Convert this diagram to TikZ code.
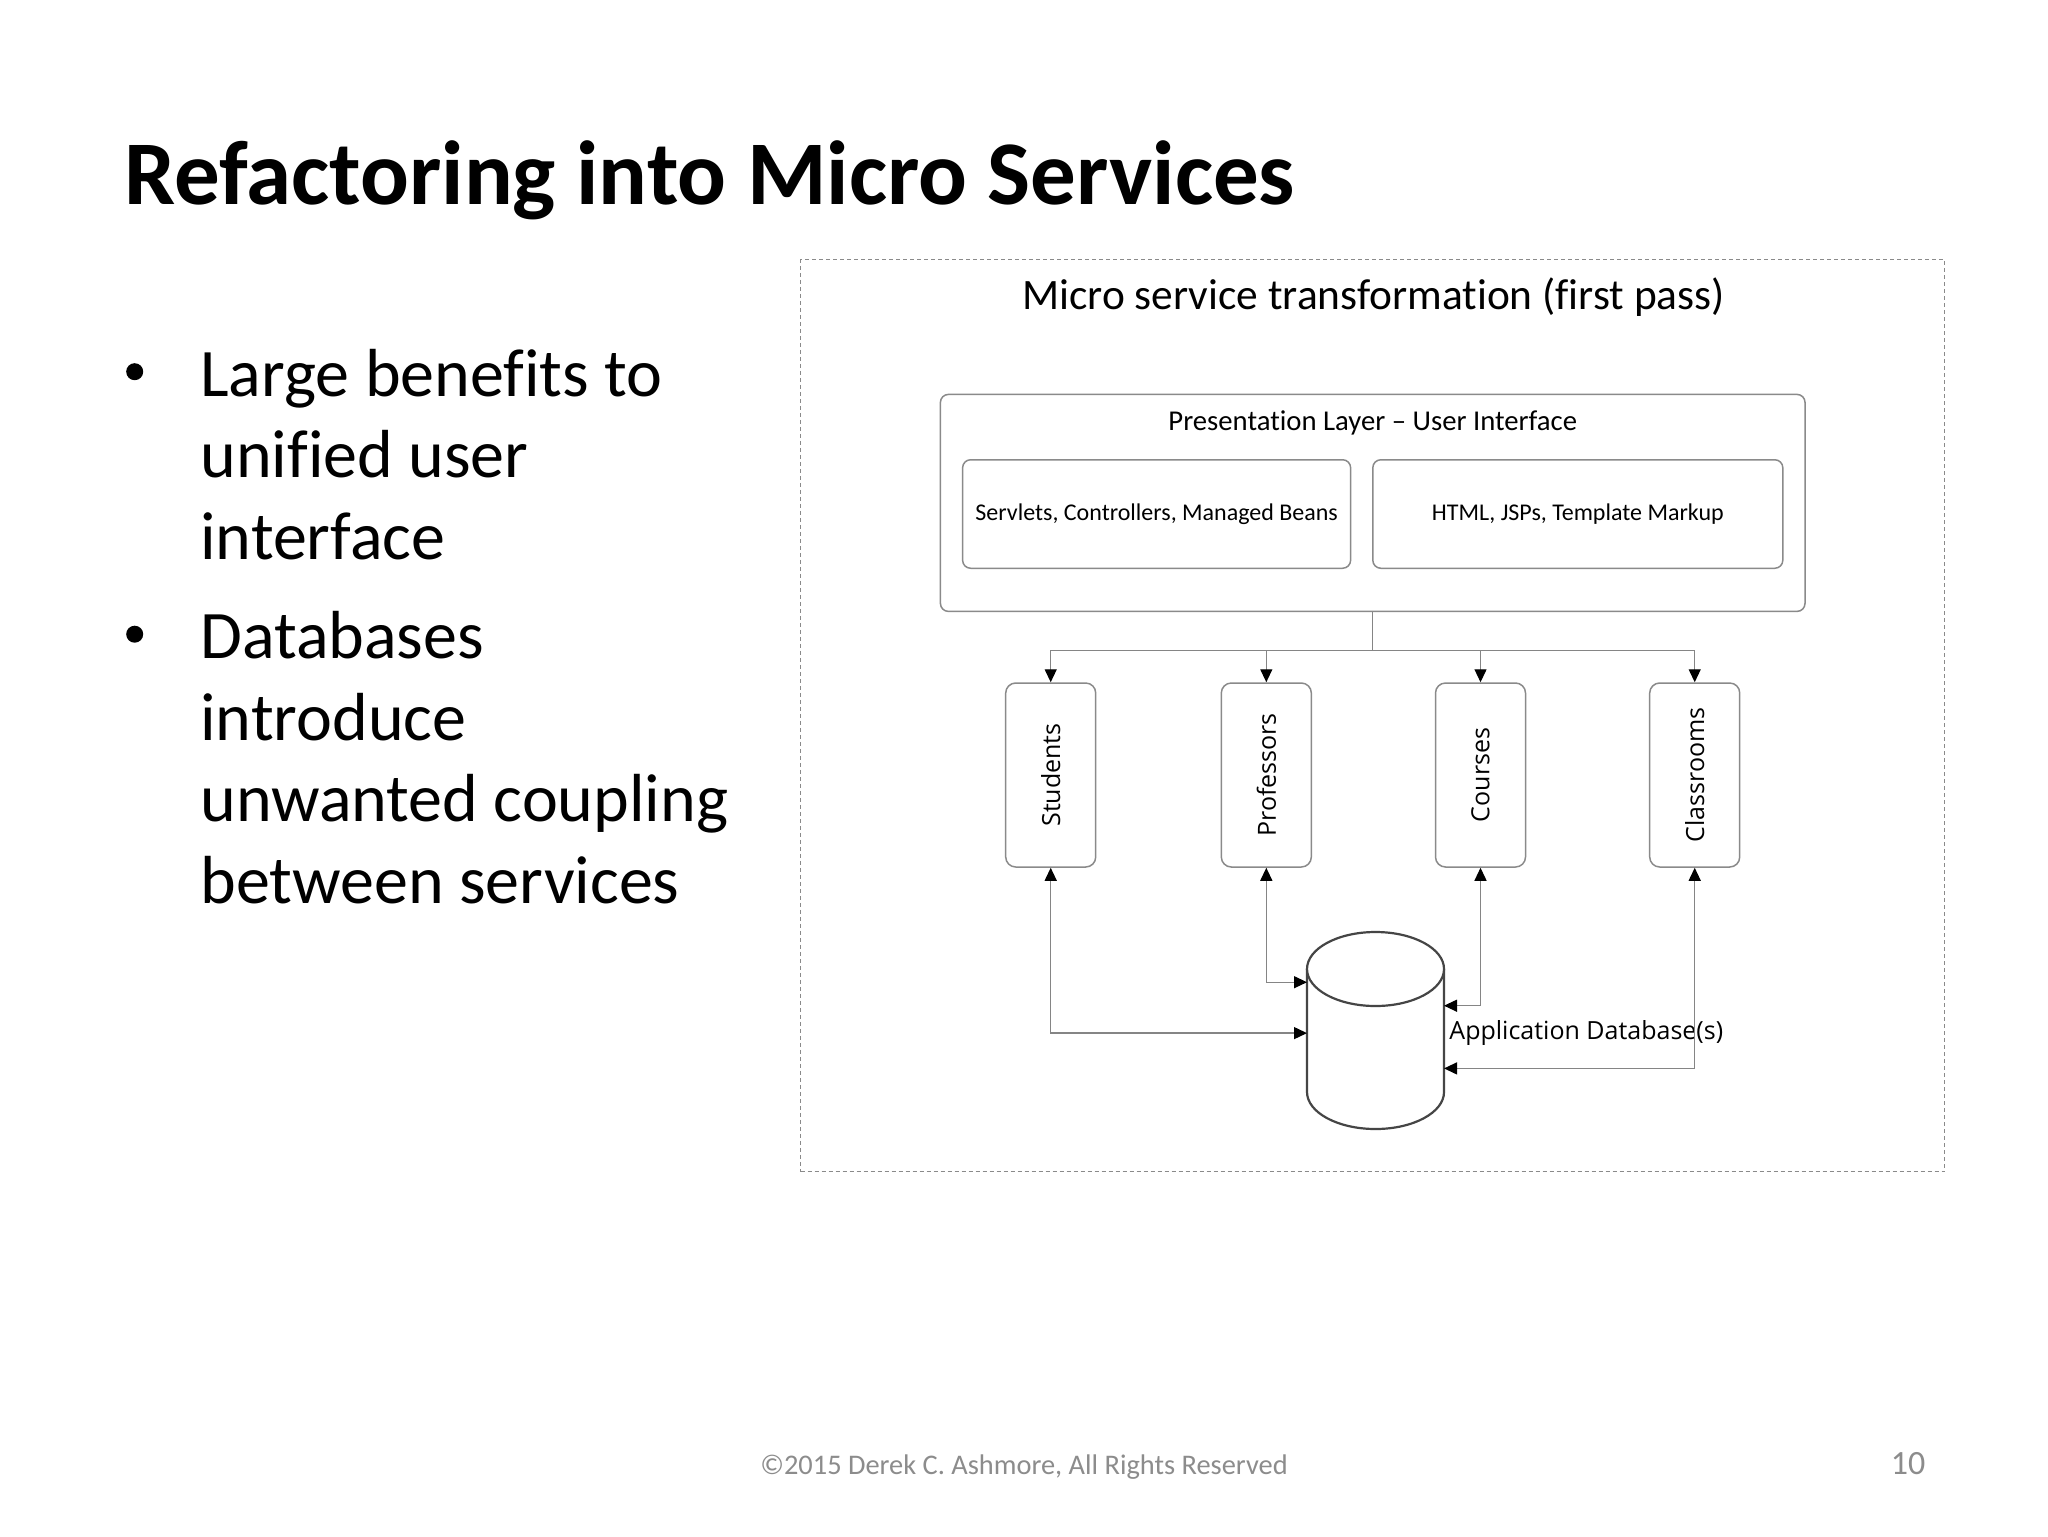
\documentclass[tikz,border=0pt]{standalone}
\usepackage{fontspec}
\setmainfont{Carlito}[Ligatures=NoCommon]
\newfontfamily\segoe{Open Sans}[Ligatures=NoCommon]
\usepackage{graphicx}
\usetikzlibrary{arrows.meta}
\definecolor{linegray}{HTML}{858585}
\definecolor{boxgray}{HTML}{8A8A8A}
\definecolor{footgray}{HTML}{8C8C8C}
\definecolor{cylgray}{HTML}{454545}
\begin{document}
\begin{tikzpicture}[x=0.5pt,y=-0.5pt,
  >={Triangle[length=6.5pt,width=6pt,color=black]},
  conn/.style={draw=linegray, line width=0.65pt},
  framebox/.style={draw=boxgray, line width=0.5pt, dash pattern=on 2pt off 1.5pt, minimum width=572.1pt, minimum height=455.8pt, inner sep=0pt},
  outerbox/.style={draw=boxgray, line width=0.75pt, rounded corners=4pt, minimum width=432.3pt, minimum height=108.5pt, inner sep=0pt},
  innerbox/.style={draw=boxgray, line width=0.75pt, rounded corners=4pt, minimum height=54.25pt, inner sep=0pt, font=\fontsize{12}{14}\selectfont},
  svc/.style={draw=boxgray, line width=0.75pt, rounded corners=5pt, minimum width=45pt, minimum height=92pt, inner sep=0pt, font=\segoe\fontsize{12.5}{14}\selectfont},
  bodytext/.style={anchor=base west, inner sep=0pt, font=\fontsize{34}{40}\selectfont},
  bulletdot/.style={circle, fill=black, inner sep=0pt, minimum size=8.5pt},
]
\useasboundingbox[fill=white] (0,0) rectangle (2048,1536);

% slide title
\node[anchor=base west, inner sep=0pt, font=\bfseries\fontsize{45.5}{54}\selectfont] (title) at (124,204) {Refactoring into Micro Services};

% bullets
\node[bulletdot] (b1) at (134.7,371.7) {};
\node[bodytext] (l1) at (200,396) {Large benefits to};
\node[bodytext] (l2) at (200,477.6) {unified user};
\node[bodytext] (l3) at (200,559.2) {interface};
\node[bulletdot] (b2) at (134.7,634.2) {};
\node[bodytext] (l4) at (200,658.5) {Databases};
\node[bodytext] (l5) at (200,740.1) {introduce};
\node[bodytext] (l6) at (200,821.7) {unwanted coupling};
\node[bodytext] (l7) at (200,903.3) {between services};

% diagram frame
\node[framebox] (frame) at (1372.7,715.7) {};
\node[anchor=base, inner sep=0pt, font=\fontsize{21.7}{26}\selectfont] (dtitle) at (1373.5,309) {Micro service transformation (first pass)};

% presentation layer
\node[outerbox] (pres) at (1372.7,502.9) {};
\node[anchor=base, inner sep=0pt, font=\fontsize{14.35}{17}\selectfont] (preslabel) at (1372.7,430) {Presentation Layer – User Interface};
\node[innerbox, minimum width=194pt] (servlets) at (1156.6,514) {Servlets, Controllers, Managed Beans};
\node[innerbox, minimum width=205pt] (html) at (1577.8,514) {HTML, JSPs, Template Markup};

% services
\node[svc] (students) at (1050.7,775) {\rotatebox{90}{Students}};
\node[svc] (professors) at (1266.3,775) {\rotatebox{90}{Professors}};
\node[svc] (courses) at (1480.5,775) {\rotatebox{90}{Courses}};
\node[svc] (classrooms) at (1694.7,775) {\rotatebox{90}{Classrooms}};

% bus
\coordinate (bus) at (1372.7,650.4);
\draw[conn,->] (pres.south) -- (bus) -| (students.north);
\draw[conn,->] (bus) -| (professors.north);
\draw[conn,->] (bus) -| (courses.north);
\draw[conn,->] (bus) -| (classrooms.north);

% database cylinder
\node[inner sep=0pt, minimum width=68.5pt, minimum height=98.5pt] (db) at (1375.5,1030.5) {};
\draw[cylgray, line width=1.1pt, fill=white]
  (1307,969) -- (1307,1092) arc[start angle=180, end angle=0, x radius=68.5, y radius=37] -- (1444,969);
\draw[cylgray, line width=1.1pt, fill=white] (1375.5,969) ellipse [x radius=68.5, y radius=37];
\node[anchor=base west, inner sep=0pt, font=\segoe\fontsize{12.5}{14}\selectfont] (dblabel) at (1449,1039) {Application Database(s)};

\coordinate (dbP) at (1307,982.2);
\coordinate (dbS) at (1307,1033.1);
\coordinate (dbC) at (1444,1005.7);
\coordinate (dbR) at (1444,1068.4);
\draw[conn,<->] (students.south) |- (dbS);
\draw[conn,<->] (professors.south) |- (dbP);
\draw[conn,<->] (courses.south) |- (dbC);
\draw[conn,<->] (classrooms.south) |- (dbR);

% footer
\node[anchor=base, inner sep=0pt, text=footgray, font=\fontsize{14.2}{17}\selectfont] (footer) at (1024,1474.6) {©2015 Derek C. Ashmore, All Rights Reserved};
\node[anchor=base, inner sep=0pt, text=footgray, font=\fontsize{17}{20}\selectfont] (pagenum) at (1908,1474.6) {10};
\end{tikzpicture}
\end{document}
